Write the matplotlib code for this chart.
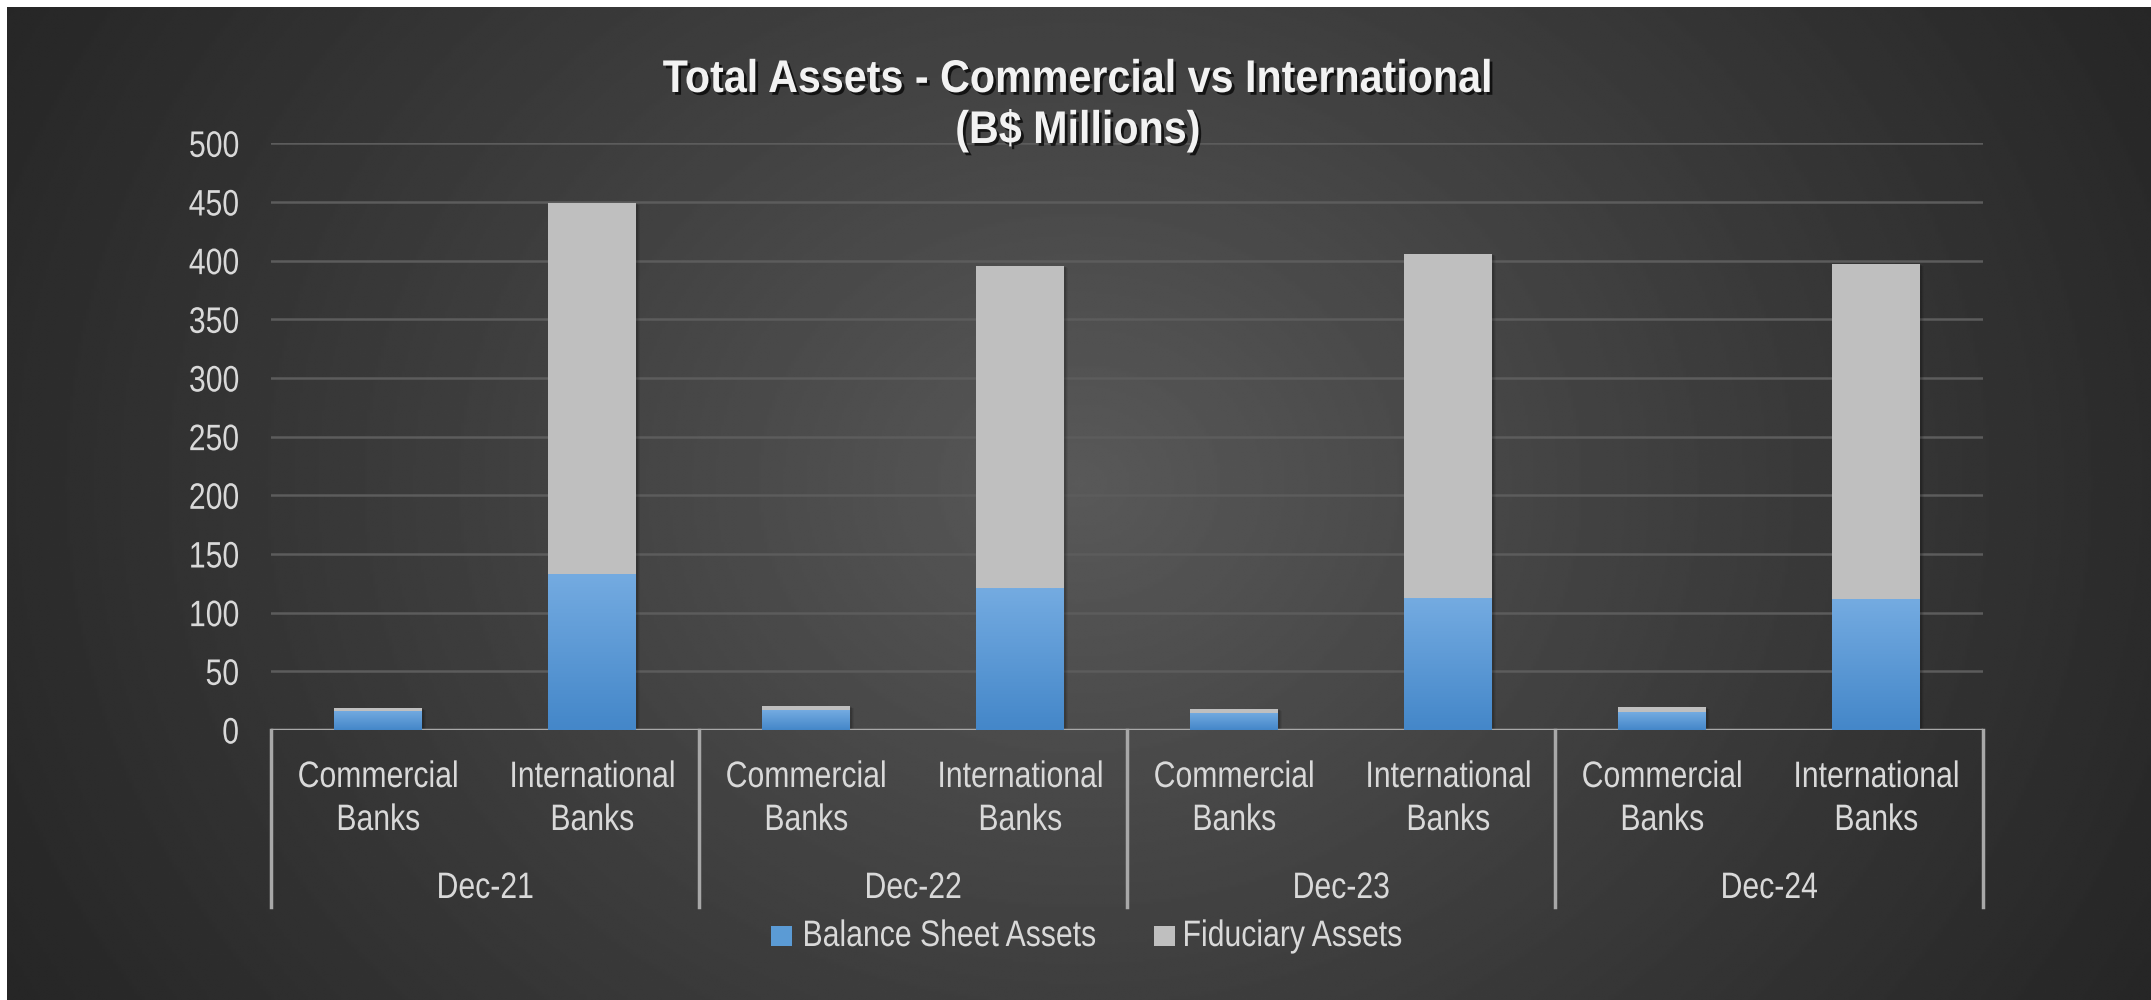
import numpy as np
import matplotlib
matplotlib.use("Agg")
import matplotlib.pyplot as plt
import matplotlib.patheffects as pe
from matplotlib import font_manager
from matplotlib.patches import Rectangle
from matplotlib.transforms import Affine2D
from matplotlib.colors import LinearSegmentedColormap

# --- data (B$ millions) ---
periods = ["Dec-21", "Dec-22", "Dec-23", "Dec-24"]
bank_types = ["Commercial\nBanks", "International\nBanks"]
series_names = ["Balance Sheet Assets", "Fiduciary Assets"]

commercial_balance = [16.3, 17.0, 14.5, 15.3]
commercial_fiduciary = [2.4, 3.4, 3.4, 4.3]
international_balance = [133.3, 120.6, 112.2, 111.4]
international_fiduciary = [315.7, 274.9, 293.5, 285.6]

y_ticks = list(range(0, 501, 50))

# --- fonts: squeeze Liberation Sans sideways when there's no narrow cut ---
installed = {f.name for f in font_manager.fontManager.ttflist}
if "Liberation Sans Narrow" in installed:
    font_name, squeeze, title_squeeze = "Liberation Sans Narrow", 1.0, 1.1
else:
    font_name, squeeze, title_squeeze = "Liberation Sans", 0.82, 0.9
plt.rcParams["font.family"] = [font_name, "DejaVu Sans"]


class Condense(pe.AbstractPathEffect):
    """scale text horizontally about its left/center/right ink edge"""

    def __init__(self, sx, anchor="center", shadow=False):
        super().__init__()
        self.sx = sx
        self.anchor = anchor
        self.shadow = pe.SimplePatchShadow(offset=(2, -2), shadow_rgbFace="black",
                                           alpha=0.7) if shadow else None

    def draw_path(self, renderer, gc, tpath, affine, rgbFace=None):
        bb = tpath.get_extents(affine)
        if self.anchor == "left":
            cx = bb.x0
        elif self.anchor == "right":
            cx = bb.x1
        else:
            cx = (bb.x0 + bb.x1) / 2
        new = affine + Affine2D().translate(-cx, 0).scale(self.sx, 1).translate(cx, 0)
        if self.shadow is not None:
            self.shadow.draw_path(renderer, gc, tpath, new, rgbFace)
        renderer.draw_path(gc, tpath, new, rgbFace)


label_size = 26.5
title_size = 33
txt_color = "#d9d9d9"
blue_top, blue_bottom = "#74abe1", "#4487c9"
gray = "#bfbfbf"

W, H = 2151, 1000
fig = plt.figure(figsize=(W / 100, H / 100), dpi=100, facecolor="white")

# background panel with radial gradient
bg = fig.add_axes([7 / W, 0, (W - 7) / W, (H - 7) / H])
bg.axis("off")
yy, xx = np.mgrid[0:1:400j, 0:1:800j]
d = np.sqrt(((xx - 0.5) / 0.55) ** 2 + ((yy - 0.48) / 1.0) ** 2)
shade = 38 + 51 * (1 - np.clip(d / 1.05, 0, 1)) ** 1.1
bg.imshow(shade, cmap="gray", vmin=0, vmax=255, aspect="auto",
          extent=[0, 1, 0, 1], interpolation="bilinear")
bg.set_xlim(0, 1)
bg.set_ylim(0, 1)

# main plot area
x0, x1 = 271, 1983
y_zero, y_top = 730, 143.3
ax = fig.add_axes([x0 / W, 1 - y_zero / H, (x1 - x0) / W, (y_zero - y_top) / H])
ax.patch.set_alpha(0)
for s in ax.spines.values():
    s.set_visible(False)

positions = np.arange(len(periods) * 2)
balance = []
fiduciary = []
for i in range(len(periods)):
    balance += [commercial_balance[i], international_balance[i]]
    fiduciary += [commercial_fiduciary[i], international_fiduciary[i]]
balance = np.array(balance)
fiduciary = np.array(fiduciary)

bar_w = 0.41
px_x = 8 / (x1 - x0)
px_y = 500 / (y_zero - y_top)

# soft shadows to the right of the bars
for p, tot in zip(positions, balance + fiduciary):
    for k, a in [(7, 0.06), (5, 0.08), (3, 0.12)]:
        ax.add_patch(Rectangle((p - bar_w / 2 + k * px_x * 0.6, 0), bar_w, tot - k * px_y * 0.3,
                               facecolor="black", alpha=a, lw=0, zorder=2))

bars_b = ax.bar(positions, balance, width=bar_w, color=blue_bottom, zorder=3)
bars_f = ax.bar(positions, fiduciary, bottom=balance, width=bar_w, color=gray, zorder=3)

# vertical gradient on the blue segments
cmap = LinearSegmentedColormap.from_list("blue", [blue_bottom, blue_top])
grad = np.linspace(0, 1, 100).reshape(-1, 1)
for r in bars_b:
    im = ax.imshow(grad, cmap=cmap, aspect="auto", origin="lower", zorder=3.5,
                   extent=[r.get_x(), r.get_x() + r.get_width(), 0, r.get_height()])
    im.set_clip_path(r)

ax.set_xlim(-0.5, len(positions) - 0.5)
ax.set_ylim(0, 500)
ax.set_yticks(y_ticks)
ax.set_yticklabels([str(v) for v in y_ticks], fontsize=label_size, color=txt_color)
for t in ax.get_yticklabels():
    t.set_path_effects([Condense(squeeze, "right")])
ax.tick_params(axis="y", length=0, pad=23)
ax.set_xticks([])
ax.yaxis.grid(True, color="#5c5c5c", lw=1.8)
ax.set_axisbelow(True)

# category axis box
line_c = "#a8a8a8"
ax.axhline(0, color=line_c, lw=2.5, zorder=2.5)
tr = ax.get_xaxis_transform()
box_depth = (y_zero - 907) / (y_zero - y_top)
for b in np.arange(-0.5, len(positions), 2):
    ax.plot([b, b], [0, box_depth], transform=tr, color=line_c, lw=2.5, clip_on=False)


def axy(py):
    return (y_zero - py) / (y_zero - y_top)


def label(x, py, s):
    ax.text(x, axy(py), s, transform=tr, ha="center", va="baseline",
            fontsize=label_size, color=txt_color,
            path_effects=[Condense(squeeze, "center")])


for p in positions:
    first, second = bank_types[p % 2].split("\n")
    label(p, 787, first)
    label(p, 830, second)
for i, per in enumerate(periods):
    label(2 * i + 0.5, 898, per)

# title
for py, line in [(92, "Total Assets - Commercial vs International"), (143, "(B$ Millions)")]:
    fig.text(1078 / W, 1 - py / H, line, ha="center", va="baseline",
             fontsize=title_size, fontweight="bold", color="#f2f2f2",
             path_effects=[Condense(title_squeeze, "center", shadow=True)])

# legend, laid out by hand so the squeezed text keeps the right gaps
legend_items = [(771, 802, "#5b9bd5"), (1154, 1182, gray)]
for (sq_x, tx, col), name in zip(legend_items, series_names):
    fig.patches.append(Rectangle((sq_x / W, 1 - 946 / H), 21 / W, 20 / H,
                                 transform=fig.transFigure, facecolor=col, lw=0))
    fig.text(tx / W, 1 - 946 / H, name, ha="left", va="baseline",
             fontsize=label_size, color=txt_color,
             path_effects=[Condense(squeeze, "left")])

fig.savefig("out.png", dpi=100, facecolor="white")
